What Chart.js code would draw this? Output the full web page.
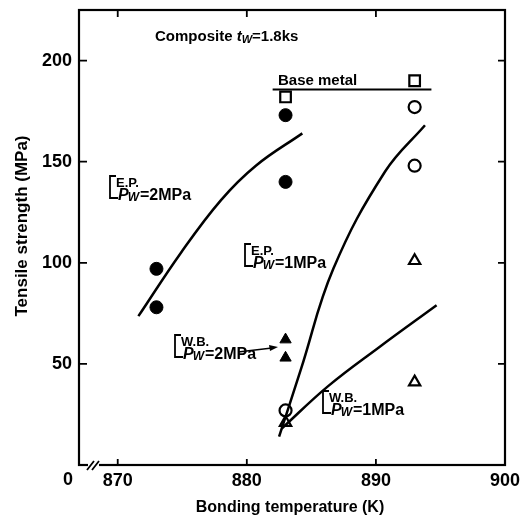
<!DOCTYPE html>
<html lang="en">
<head>
<meta charset="UTF-8">
<title>Tensile strength vs bonding temperature</title>
<script src="https://cdn.jsdelivr.net/npm/chart.js@4.4.1/dist/chart.umd.min.js"></script>
<style>
  html, body { margin: 0; padding: 0; background: #fff; }
  #wrap { width: 521px; height: 524px; }
</style>
</head>
<body>
<div id="wrap"><canvas id="chart" width="521" height="524"></canvas></div>
<script>
// tick labels
const xTicks = [870, 880, 890, 900];
const yTicks = [50, 100, 150, 200];
const originLabel = '0';

// measured points (K, MPa)
const epHighTemp = [873, 873, 883, 883];          // E.P. Pw=2MPa, filled circles
const epHighStrength = [97, 78, 173, 140];
const epLowTemp = [883, 893, 893];                // E.P. Pw=1MPa, open circles
const epLowStrength = [27, 177, 148];
const wbHighTemp = [883, 883];                    // W.B. Pw=2MPa, filled triangles
const wbHighStrength = [62, 53];
const wbLowTemp = [883, 893, 893];                // W.B. Pw=1MPa, open triangles
const wbLowStrength = [21, 101, 41];
const baseTemp = [883, 893];                      // base metal, open squares
const baseStrength = [182, 190];

// base metal level line
const baseLineTemp = [882, 894.3];
const baseLineStrength = [185.7, 185.7];

// hand drawn trend curves
const curveEpHighTemp = [871.6, 874.9, 878, 880.7, 884.3];
const curveEpHighStrength = [73.6, 105, 131, 148, 164];
const curveEpLowTemp = [882.5, 884.2, 886.7, 890.7, 893.8];
const curveEpLowStrength = [14, 47.5, 97, 145, 168];
const curveWbLowTemp = [882.7, 886.3, 890.2, 894.7];
const curveWbLowStrength = [18, 39, 58, 79];

function pts(xs, ys) {
  return xs.map((x, i) => ({ x: x, y: ys[i] }));
}

const FONT = "'Liberation Sans', Arial, sans-serif";

function markers(label, xs, ys, style, filled, radius) {
  return {
    type: 'scatter',
    label: label,
    data: pts(xs, ys),
    pointStyle: style,
    pointRadius: radius,
    pointBackgroundColor: filled ? '#000' : '#fff',
    pointBorderColor: '#000',
    pointBorderWidth: filled ? 1 : 2.2,
    showLine: false
  };
}

function curve(label, xs, ys) {
  return {
    type: 'line',
    label: label,
    data: pts(xs, ys),
    borderColor: '#000',
    borderWidth: 2.5,
    pointRadius: 0,
    tension: 0.4,
    cubicInterpolationMode: 'default',
    fill: false
  };
}

// labels with bracket: "E.P." over "Pw=2MPa"
function bracketLabel(ctx, x, y, top, value) {
  ctx.save();
  ctx.fillStyle = '#000';
  ctx.strokeStyle = '#000';
  ctx.lineWidth = 1.8;
  ctx.beginPath();
  ctx.moveTo(x + 6, y - 15);
  ctx.lineTo(x, y - 15);
  ctx.lineTo(x, y + 7);
  ctx.lineTo(x + 8, y + 7);
  ctx.stroke();
  ctx.textBaseline = 'alphabetic';
  ctx.textAlign = 'left';
  ctx.font = 'bold 13px ' + FONT;
  ctx.fillText(top, x + 6, y - 4);
  ctx.font = 'italic bold 16px ' + FONT;
  ctx.fillText('P', x + 8, y + 9);
  let w = ctx.measureText('P').width;
  ctx.font = 'italic bold 12px ' + FONT;
  ctx.fillText('W', x + 8 + w - 1, y + 10);
  w += ctx.measureText('W').width;
  ctx.font = 'bold 16px ' + FONT;
  ctx.fillText('=' + value, x + 8 + w, y + 9);
  ctx.restore();
}

const decorPlugin = {
  id: 'decor',
  beforeDraw(chart) {
    const ctx = chart.ctx;
    ctx.save();
    ctx.fillStyle = '#fff';
    ctx.fillRect(0, 0, chart.width, chart.height);
    ctx.restore();
  },
  afterDatasetsDraw(chart) {
    const ctx = chart.ctx;
    const a = chart.chartArea;
    const xs = chart.scales.x, ys = chart.scales.y;
    ctx.save();
    ctx.strokeStyle = '#000';
    ctx.fillStyle = '#000';

    // frame
    ctx.lineWidth = 2.2;
    ctx.strokeRect(a.left, a.top, a.right - a.left, a.bottom - a.top);

    // inward ticks
    ctx.lineWidth = 1.8;
    ctx.beginPath();
    xTicks.forEach(v => {
      const px = xs.getPixelForValue(v);
      if (px > a.right - 3) return;
      ctx.moveTo(px, a.bottom); ctx.lineTo(px, a.bottom - 6);
      ctx.moveTo(px, a.top); ctx.lineTo(px, a.top + 7);
    });
    yTicks.forEach(v => {
      const py = ys.getPixelForValue(v);
      ctx.moveTo(a.left, py); ctx.lineTo(a.left + 8, py);
      ctx.moveTo(a.right, py); ctx.lineTo(a.right - 7, py);
    });
    ctx.stroke();

    // axis break on x axis
    ctx.fillStyle = '#fff';
    ctx.fillRect(a.left + 9, a.bottom - 3, 11, 6);
    ctx.strokeStyle = '#000';
    ctx.lineWidth = 1.8;
    ctx.beginPath();
    ctx.moveTo(a.left + 8, a.bottom + 5); ctx.lineTo(a.left + 15, a.bottom - 4);
    ctx.moveTo(a.left + 13, a.bottom + 5); ctx.lineTo(a.left + 20, a.bottom - 4);
    ctx.stroke();
    ctx.fillStyle = '#000';

    // origin label
    ctx.font = 'bold 18px ' + FONT;
    ctx.textAlign = 'center';
    ctx.textBaseline = 'middle';
    ctx.fillText(originLabel, a.left - 11, a.bottom + 15);

    // axis titles
    ctx.font = 'bold 16px ' + FONT;
    ctx.fillText('Bonding temperature (K)', 290, 508);
    ctx.save();
    ctx.translate(22, 226);
    ctx.rotate(-Math.PI / 2);
    ctx.font = 'bold 17px ' + FONT;
    ctx.fillText('Tensile strength (MPa)', 0, 0);
    ctx.restore();

    // header
    ctx.textAlign = 'left';
    ctx.textBaseline = 'alphabetic';
    ctx.font = 'bold 15px ' + FONT;
    ctx.fillText('Composite ', 155, 41);
    let w = ctx.measureText('Composite ').width;
    ctx.font = 'italic bold 15px ' + FONT;
    ctx.fillText('t', 155 + w, 41);
    w += ctx.measureText('t').width;
    ctx.font = 'italic bold 11px ' + FONT;
    ctx.fillText('W', 155 + w, 43);
    w += ctx.measureText('W').width;
    ctx.font = 'bold 15px ' + FONT;
    ctx.fillText('=1.8ks', 155 + w, 41);

    ctx.fillText('Base metal', 278, 85);

    bracketLabel(ctx, 110, 191, 'E.P.', '2MPa');
    bracketLabel(ctx, 245, 259, 'E.P.', '1MPa');
    bracketLabel(ctx, 175, 350, 'W.B.', '2MPa');
    bracketLabel(ctx, 323, 406, 'W.B.', '1MPa');

    // arrow from W.B. 2MPa label to its points
    ctx.lineWidth = 1.4;
    ctx.beginPath();
    ctx.moveTo(238, 352); ctx.lineTo(272, 348);
    ctx.stroke();
    ctx.beginPath();
    ctx.moveTo(278, 347); ctx.lineTo(269, 345); ctx.lineTo(270, 351);
    ctx.closePath();
    ctx.fill();

    ctx.restore();
  }
};

new Chart(document.getElementById('chart'), {
  type: 'scatter',
  data: {
    datasets: [
      curve('E.P. 2MPa fit', curveEpHighTemp, curveEpHighStrength),
      curve('E.P. 1MPa fit', curveEpLowTemp, curveEpLowStrength),
      curve('W.B. 1MPa fit', curveWbLowTemp, curveWbLowStrength),
      {
        type: 'line', label: 'Base metal', data: pts(baseLineTemp, baseLineStrength),
        borderColor: '#000', borderWidth: 2, pointRadius: 0, fill: false
      },
      markers('E.P. Pw=2MPa', epHighTemp, epHighStrength, 'circle', true, 6.5),
      markers('E.P. Pw=1MPa', epLowTemp, epLowStrength, 'circle', false, 6),
      markers('W.B. Pw=2MPa', wbHighTemp, wbHighStrength, 'triangle', true, 6.5),
      markers('W.B. Pw=1MPa', wbLowTemp, wbLowStrength, 'triangle', false, 6.5),
      markers('Base metal', baseTemp, baseStrength, 'rect', false, 7.5)
    ]
  },
  options: {
    responsive: false,
    animation: false,
    layout: { padding: { top: 10, right: 16, left: 0, bottom: 0 } },
    plugins: { legend: { display: false }, tooltip: { enabled: false } },
    scales: {
      x: {
        type: 'linear', min: 867, max: 900,
        grid: { display: false, drawTicks: false }, border: { display: false },
        afterBuildTicks: s => { s.ticks = xTicks.map(v => ({ value: v })); },
        afterFit: s => { s.height = 59; s.paddingLeft = 0; s.paddingRight = 0; },
        ticks: { color: '#000', padding: 5, autoSkip: false, maxRotation: 0,
                 font: { family: FONT, size: 18, weight: 'bold' } }
      },
      y: {
        type: 'linear', min: 0, max: 225,
        grid: { display: false, drawTicks: false }, border: { display: false },
        afterBuildTicks: s => { s.ticks = yTicks.map(v => ({ value: v })); },
        afterFit: s => { s.width = 79; s.paddingTop = 0; s.paddingBottom = 0; },
        ticks: { color: '#000', padding: 7, font: { family: FONT, size: 18, weight: 'bold' } }
      }
    }
  },
  plugins: [decorPlugin]
});
</script>
</body>
</html>
